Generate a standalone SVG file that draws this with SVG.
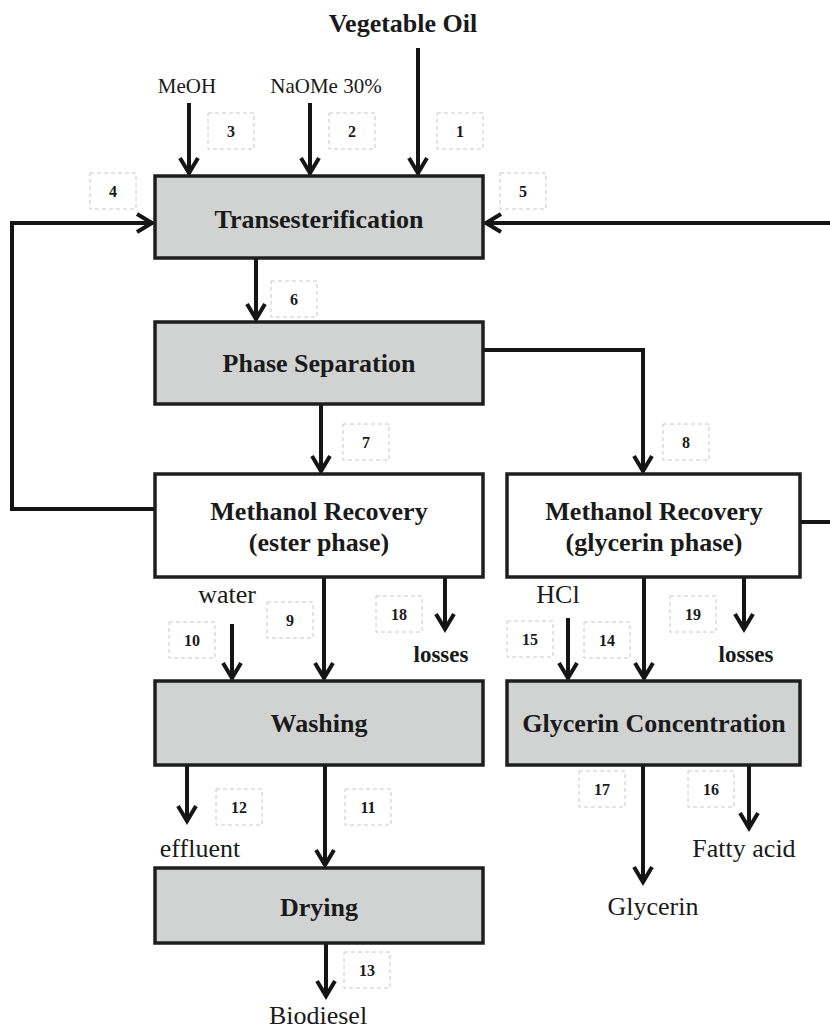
<svg xmlns="http://www.w3.org/2000/svg" width="830" height="1028" viewBox="0 0 830 1028">
<style>
.box{stroke:#1e1e1e;stroke-width:3.5}
.gray{fill:#d1d3d2}
.white{fill:#ffffff}
.lbl{font-family:"Liberation Serif",serif;font-weight:bold;font-size:26px;fill:#1a1a1a;text-anchor:middle}
.txt{font-family:"Liberation Serif",serif;font-size:26px;fill:#1a1a1a;text-anchor:middle}
.sm{font-family:"Liberation Serif",serif;font-size:21px;fill:#1a1a1a;text-anchor:middle}
.loss{font-family:"Liberation Serif",serif;font-weight:bold;font-size:23px;fill:#1a1a1a;text-anchor:middle}
.num rect{fill:#fff;stroke:#c8c8c8;stroke-width:1;stroke-dasharray:4 3}
.num text{font-family:"Liberation Serif",serif;font-weight:bold;font-size:16px;fill:#1a1a1a;text-anchor:middle}
.c{fill:none;stroke:#151515;stroke-width:4}
.a{marker-end:url(#arr)}
</style>
<defs>
<marker id="arr" markerUnits="userSpaceOnUse" viewBox="-20 -12 24 24" markerWidth="24" markerHeight="24" refX="1" refY="0" orient="auto">
<path d="M-15,-9 L0,0 L-15,9" fill="none" stroke="#151515" stroke-width="4"/>
</marker>
</defs>

<text class="lbl" x="403" y="32">Vegetable Oil</text>
<text class="sm" x="187" y="93">MeOH</text>
<text class="sm" x="326" y="93">NaOMe 30%</text>

<g id="connectors">
<path class="c a" d="M189,103 V174"/>
<path class="c a" d="M310,103 V174"/>
<path class="c a" d="M418,48 V174"/>
<path class="c a" d="M155,509 H12 V223 H153"/>
<path class="c a" d="M832,223 H485"/>
<path class="c" d="M800,522 H832"/>
<path class="c a" d="M256,258 V320"/>
<path class="c a" d="M321,404 V472"/>
<path class="c a" d="M483,350 H643 V472"/>
<path class="c a" d="M324,577 V679"/>
<path class="c a" d="M232,624 V679"/>
<path class="c a" d="M445,575 V630"/>
<path class="c a" d="M568,618 V679"/>
<path class="c a" d="M644,577 V679"/>
<path class="c a" d="M744,575 V630"/>
<path class="c a" d="M187,765 V822"/>
<path class="c a" d="M325,765 V866"/>
<path class="c a" d="M749,765 V829"/>
<path class="c a" d="M643,765 V883"/>
<path class="c a" d="M326,943 V997"/>
</g>

<g id="transesterification">
<rect class="box gray" x="155" y="176" width="328" height="82"/>
<text class="lbl" x="319" y="228">Transesterification</text>
</g>
<g id="phase-separation">
<rect class="box gray" x="155" y="322" width="328" height="82"/>
<text class="lbl" x="319" y="372">Phase Separation</text>
</g>
<g id="methanol-recovery-ester">
<rect class="box white" x="155" y="474" width="328" height="103"/>
<text class="lbl" x="319" y="520">Methanol Recovery</text>
<text class="lbl" x="319" y="551">(ester phase)</text>
</g>
<g id="methanol-recovery-glycerin">
<rect class="box white" x="507" y="474" width="293" height="103"/>
<text class="lbl" x="654" y="520">Methanol Recovery</text>
<text class="lbl" x="654" y="551">(glycerin phase)</text>
</g>
<g id="washing">
<rect class="box gray" x="155" y="681" width="328" height="84"/>
<text class="lbl" x="319" y="732">Washing</text>
</g>
<g id="glycerin-concentration">
<rect class="box gray" x="507" y="681" width="293" height="84"/>
<text class="lbl" x="654" y="732">Glycerin Concentration</text>
</g>
<g id="drying">
<rect class="box gray" x="155" y="868" width="328" height="75"/>
<text class="lbl" x="319" y="916">Drying</text>
</g>

<text class="txt" x="227" y="603">water</text>
<text class="txt" x="558" y="603">HCl</text>
<text class="loss" x="441" y="662">losses</text>
<text class="loss" x="746" y="662">losses</text>
<text class="txt" x="200" y="857">effluent</text>
<text class="txt" x="744" y="857">Fatty acid</text>
<text class="txt" x="653" y="915">Glycerin</text>
<text class="txt" x="318" y="1024">Biodiesel</text>

<g id="labels" class="num">
<g><rect x="437" y="113" width="46" height="36"/><text x="460" y="137">1</text></g>
<g><rect x="329" y="113" width="46" height="36"/><text x="352" y="137">2</text></g>
<g><rect x="208" y="113" width="46" height="36"/><text x="231" y="137">3</text></g>
<g><rect x="90" y="173" width="46" height="36"/><text x="113" y="197">4</text></g>
<g><rect x="500" y="173" width="46" height="36"/><text x="523" y="197">5</text></g>
<g><rect x="271" y="281" width="46" height="36"/><text x="294" y="305">6</text></g>
<g><rect x="343" y="424" width="46" height="36"/><text x="366" y="448">7</text></g>
<g><rect x="663" y="424" width="46" height="36"/><text x="686" y="448">8</text></g>
<g><rect x="267" y="602" width="46" height="36"/><text x="290" y="626">9</text></g>
<g><rect x="169" y="622" width="46" height="36"/><text x="192" y="646">10</text></g>
<g><rect x="345" y="789" width="46" height="36"/><text x="368" y="813">11</text></g>
<g><rect x="216" y="789" width="46" height="36"/><text x="239" y="813">12</text></g>
<g><rect x="344" y="952" width="46" height="36"/><text x="367" y="976">13</text></g>
<g><rect x="584" y="622" width="46" height="36"/><text x="607" y="646">14</text></g>
<g><rect x="507" y="621" width="46" height="36"/><text x="530" y="645">15</text></g>
<g><rect x="688" y="771" width="46" height="36"/><text x="711" y="795">16</text></g>
<g><rect x="579" y="771" width="46" height="36"/><text x="602" y="795">17</text></g>
<g><rect x="376" y="596" width="46" height="36"/><text x="399" y="620">18</text></g>
<g><rect x="670" y="596" width="46" height="36"/><text x="693" y="620">19</text></g>
</g>
</svg>
